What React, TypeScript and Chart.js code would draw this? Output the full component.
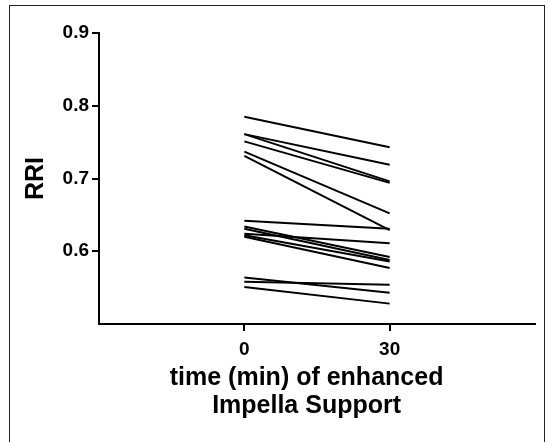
import { useEffect, useRef } from "react";
import { Chart, registerables } from "chart.js";

Chart.register(...registerables);

const timePoints = [0, 30];
const rriAt0 = [0.785, 0.761, 0.761, 0.751, 0.737, 0.731, 0.642, 0.634, 0.631, 0.624, 0.622, 0.62, 0.564, 0.558, 0.551];
const rriAt30 = [0.743, 0.719, 0.696, 0.694, 0.652, 0.629, 0.631, 0.592, 0.588, 0.611, 0.586, 0.577, 0.543, 0.554, 0.528];
const yTickValues = [0.6, 0.7, 0.8, 0.9];
const xTickValues = [0, 30];
const xTitleLines = ["time (min) of enhanced   ", "Impella Support   "];
const yTitle = "RRI";

const FONT = "'Liberation Sans', Arial, sans-serif";

export default function App() {
  const ref = useRef<HTMLCanvasElement>(null);

  useEffect(() => {
    const datasets = rriAt0.map((v, i) => ({
      data: [
        { x: timePoints[0], y: v },
        { x: timePoints[1], y: rriAt30[i] },
      ],
      borderColor: "#000",
      borderWidth: 2,
      pointRadius: 0,
      fill: false,
      tension: 0,
    }));

    const chart = new Chart(ref.current!, {
      type: "line",
      data: { datasets },
      options: {
        animation: false,
        responsive: false,
        events: [],
        plugins: { legend: { display: false }, tooltip: { enabled: false } },
        layout: { padding: { top: 33, right: 14, left: 0, bottom: 22 } },
        scales: {
          x: {
            type: "linear",
            min: -30,
            max: 60,
            afterBuildTicks: (s: any) => {
              s.ticks = xTickValues.map((v) => ({ value: v }));
            },
            afterFit: (s: any) => {
              s.height = 96;
            },
            grid: { drawOnChartArea: false, color: "#000", lineWidth: 2, tickLength: 7 },
            border: { color: "#000", width: 2 },
            ticks: {
              color: "#000",
              padding: 7,
              font: { family: FONT, size: 19, weight: "bold" },
              callback: (v: any) => String(v),
            },
            title: {
              display: true,
              text: xTitleLines,
              color: "#000",
              padding: 0,
              font: { family: FONT, size: 25, weight: "bold", lineHeight: 1.12 },
            },
          },
          y: {
            type: "linear",
            min: 0.5,
            max: 0.9,
            afterBuildTicks: (s: any) => {
              s.ticks = yTickValues.map((v) => ({ value: v }));
            },
            afterFit: (s: any) => {
              s.width = 99;
            },
            grid: { drawOnChartArea: false, color: "#000", lineWidth: 2, tickLength: 7 },
            border: { color: "#000", width: 2 },
            ticks: {
              color: "#000",
              padding: 3,
              font: { family: FONT, size: 19, weight: "bold" },
              callback: (v: any) => Number(v).toFixed(1),
            },
            title: {
              display: true,
              text: yTitle,
              color: "#000",
              padding: { top: 21, bottom: 0 },
              font: { family: FONT, size: 25, weight: "bold", lineHeight: 1.2 },
            },
          },
        },
      },
    } as any);

    return () => chart.destroy();
  }, []);

  return (
    <div style={{ position: "absolute", left: 0, top: 0, width: 549, height: 442, background: "#fff", overflow: "hidden" }}>
      <canvas ref={ref} width={549} height={442} style={{ position: "absolute", left: 0, top: 0, width: 549, height: 442 }} />
      <div
        style={{
          position: "absolute",
          left: 9,
          top: 5,
          width: 536,
          height: 460,
          border: "1px solid #222",
          boxSizing: "border-box",
          pointerEvents: "none",
        }}
      />
    </div>
  );
}
